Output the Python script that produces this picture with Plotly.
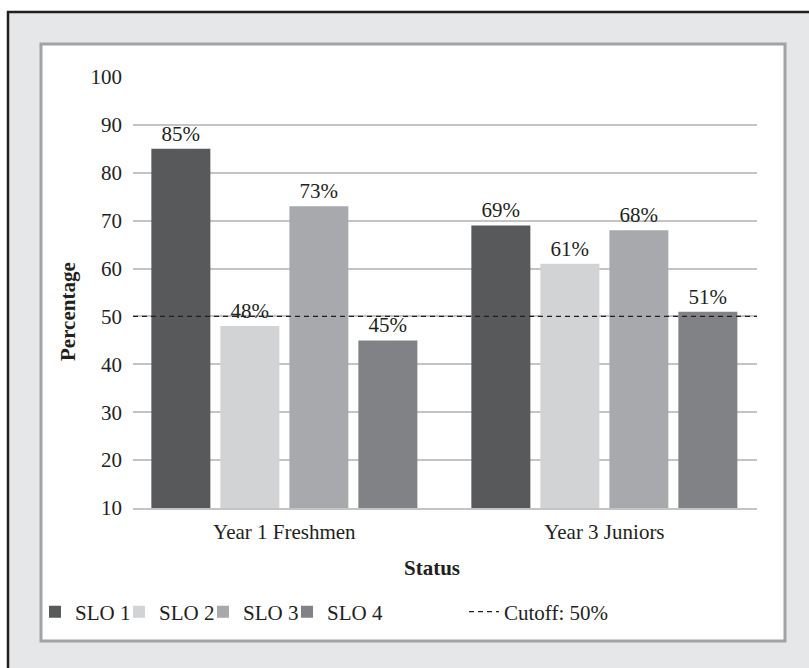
import plotly.graph_objects as go

# ---- data ----
categories = ["Year 1 Freshmen", "Year 3 Juniors"]
series_names = ["SLO 1", "SLO 2", "SLO 3", "SLO 4"]
slo1 = [85, 69]
slo2 = [48, 61]
slo3 = [73, 68]
slo4 = [45, 51]
cutoff = 50
y_ticks = [0, 10, 20, 30, 40, 50, 60, 70, 80, 90, 100]
axis_base = 10

series_values = [slo1, slo2, slo3, slo4]
colors = ["#58595b", "#d1d3d4", "#a7a9ac", "#808285"]

W, H = 809, 668
L, R, T, B = 133, 757, 77, 508  # plot area pixel box
FONT = "Liberation Serif"
TXT = "#231f20"


def px(x):
    return (x - L) / (R - L)


def py(y):
    return (B - y) / (B - T)


fig = go.Figure()
for i, (name, vals, col) in enumerate(zip(series_names, series_values, colors)):
    fig.add_trace(go.Bar(
        name=name,
        x=categories,
        y=[v - axis_base for v in vals],
        base=axis_base,
        marker=dict(color=col, line=dict(width=0)),
        text=[f"{v}%" for v in vals],
        textposition="outside",
        textfont=dict(family=FONT, size=21, color=TXT),
        cliponaxis=False,
        legend="legend",
        legendwidth=39 if i < len(series_names) - 1 else 60,
    ))

shapes = [
    # outer frame
    dict(type="rect", xref="paper", yref="paper", layer="below",
         x0=px(8), x1=px(840), y0=py(700), y1=py(12),
         fillcolor="#e6e7e8", line=dict(color="#231f20", width=2.5)),
    # inner panel
    dict(type="rect", xref="paper", yref="paper", layer="below",
         x0=px(41), x1=px(785), y0=py(641), y1=py(44),
         fillcolor="#ffffff", line=dict(color="#a2a3a5", width=3)),
]
fig.update_layout(shapes=shapes)
fig.add_shape(type="line", xref="paper", yref="y", x0=0, x1=1, y0=cutoff, y1=cutoff,
              line=dict(color="#231f20", width=1.3, dash="5px,4px"),
              name=f"Cutoff: {cutoff}%", showlegend=True, legend="legend2")

fig.add_annotation(text="0", xref="paper", yref="y", x=0, y=y_ticks[0], xshift=-10,
                   xanchor="right", yanchor="middle", showarrow=False,
                   font=dict(family=FONT, size=21, color=TXT))
fig.add_annotation(text="<b>Status</b>", xref="paper", yref="paper", x=px(432), y=py(568),
                   xanchor="center", yanchor="middle", showarrow=False,
                   font=dict(family=FONT, size=21, color=TXT))
fig.add_annotation(text="<b>Percentage</b>", xref="paper", yref="paper", x=px(68), y=py(312),
                   xanchor="center", yanchor="middle", showarrow=False, textangle=-90,
                   font=dict(family=FONT, size=21, color=TXT))

fig.update_layout(
    width=W, height=H,
    margin=dict(l=L, r=W - R, t=T, b=H - B, pad=0),
    paper_bgcolor="#ffffff",
    plot_bgcolor="rgba(0,0,0,0)",
    barmode="group",
    bargap=0.1375,
    bargroupgap=0.145,
    font=dict(family=FONT, size=21, color=TXT),
    xaxis=dict(range=[-0.473, 1.477], showgrid=False, showline=True, linecolor="#c4c4c4",
               linewidth=1.5, ticks="", ticklabelstandoff=4,
               tickfont=dict(family=FONT, size=21, color=TXT), zeroline=False),
    yaxis=dict(range=[axis_base, 100], tickvals=y_ticks[1:], showgrid=True,
               gridcolor="#c4c4c4", gridwidth=1.5, zeroline=False, showline=False,
               ticks="", ticklabelstandoff=10,
               tickfont=dict(family=FONT, size=21, color=TXT)),
    legend=dict(orientation="h", x=px(35), y=py(612), xanchor="left", yanchor="middle",
                bgcolor="rgba(0,0,0,0)", itemwidth=30,
                font=dict(family=FONT, size=21, color=TXT), traceorder="normal"),
    legend2=dict(orientation="h", x=px(464), y=py(612), xanchor="left", yanchor="middle",
                 bgcolor="rgba(0,0,0,0)", itemwidth=30,
                 font=dict(family=FONT, size=21, color=TXT)),
    showlegend=True,
)

fig.write_html("out.html", config={"displayModeBar": False},
               post_script="document.body.style.margin='0';")
